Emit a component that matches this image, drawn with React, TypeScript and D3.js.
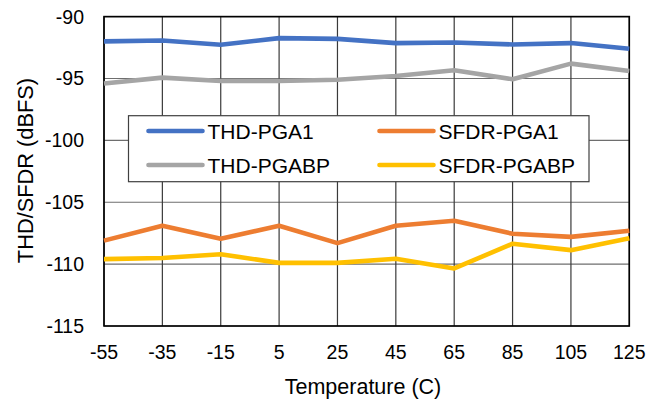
import React from "react";
import * as d3 from "d3";

const temperatures = [-55, -35, -15, 5, 25, 45, 65, 85, 105, 125];
const thdPga1 = [-92.0, -91.93, -92.28, -91.74, -91.8, -92.14, -92.09, -92.25, -92.14, -92.6];
const sfdrPga1 = [-108.1, -106.9, -107.95, -106.9, -108.3, -106.9, -106.5, -107.55, -107.8, -107.3];
const thdPgabp = [-95.4, -94.93, -95.2, -95.2, -95.1, -94.8, -94.34, -95.06, -93.8, -94.4];
const sfdrPgabp = [-109.6, -109.5, -109.2, -109.9, -109.9, -109.56, -110.35, -108.35, -108.87, -107.9];
const yTicks = [-90, -95, -100, -105, -110, -115];
const seriesNames = ["THD-PGA1", "SFDR-PGA1", "THD-PGABP", "SFDR-PGABP"];
const seriesColors = ["#4472C4", "#ED7D31", "#A5A5A5", "#FFC000"];

export default function App() {
  const W = 662, H = 400;
  const left = 104, right = 629.3, top = 16.6, bottom = 326;
  const x = d3.scaleLinear().domain([-55, 125]).range([left, right]);
  const y = d3.scaleLinear().domain([-115, -90]).range([bottom, top]);
  const seriesData = [thdPga1, sfdrPga1, thdPgabp, sfdrPgabp];
  const line = d3
    .line<number>()
    .x((_, i) => x(temperatures[i]))
    .y((d) => y(d));
  const font = "'Liberation Sans', Arial, sans-serif";

  // legend layout
  const lg = { x0: 128.5, y0: 115.7, x1: 589, y1: 181.7 };
  const legendPos = [
    { lx: 148.5, ly: 131 },
    { lx: 379.5, ly: 131 },
    { lx: 148.5, ly: 165 },
    { lx: 379.5, ly: 165 },
  ];

  return (
    <svg
      width={W}
      height={H}
      style={{ position: "absolute", left: 0, top: 0, background: "#fff" }}
      fontFamily={font}
    >
      <rect x={0} y={0} width={W} height={H} fill="#fff" />
      {/* horizontal grid */}
      {yTicks.map((t) => (
        <line key={"h" + t} x1={left} x2={right} y1={y(t)} y2={y(t)} stroke="#6e6e6e" strokeWidth={1.2} />
      ))}
      {/* vertical grid */}
      {temperatures.map((t) => (
        <line key={"v" + t} x1={x(t)} x2={x(t)} y1={top} y2={bottom} stroke="#3a3a3a" strokeWidth={1.2} />
      ))}
      <rect x={left} y={top} width={right - left} height={bottom - top} fill="none" stroke="#000" strokeWidth={1.6} />

      {/* series */}
      {seriesData.map((d, i) => (
        <path
          key={seriesNames[i]}
          d={line(d) || ""}
          fill="none"
          stroke={seriesColors[i]}
          strokeWidth={4.6}
          strokeLinejoin="round"
        />
      ))}

      {/* y tick labels */}
      {yTicks.map((t) => (
        <text key={"yl" + t} x={84} y={y(t) + 7} textAnchor="end" fontSize={19.5} fill="#000">
          {t}
        </text>
      ))}
      {/* x tick labels */}
      {temperatures.map((t) => (
        <text key={"xl" + t} x={x(t)} y={359} textAnchor="middle" fontSize={19.5} fill="#000">
          {t}
        </text>
      ))}
      <text x={363} y={394} textAnchor="middle" fontSize={21.5} fill="#000">
        Temperature (C)
      </text>
      <text
        transform={`translate(32.5,170.5) rotate(-90)`}
        textAnchor="middle"
        fontSize={21.8}
        fill="#000"
      >
        THD/SFDR (dBFS)
      </text>

      {/* legend */}
      <rect x={lg.x0} y={lg.y0} width={lg.x1 - lg.x0} height={lg.y1 - lg.y0} fill="#fff" stroke="#404040" strokeWidth={1.2} />
      {seriesNames.map((n, i) => (
        <g key={"lg" + n}>
          <line
            x1={legendPos[i].lx}
            x2={legendPos[i].lx + 54}
            y1={legendPos[i].ly}
            y2={legendPos[i].ly}
            stroke={seriesColors[i]}
            strokeWidth={4.6}
            strokeLinecap="round"
          />
          <text x={legendPos[i].lx + 59} y={legendPos[i].ly + 7.5} fontSize={21} fill="#000">
            {n}
          </text>
        </g>
      ))}
    </svg>
  );
}
